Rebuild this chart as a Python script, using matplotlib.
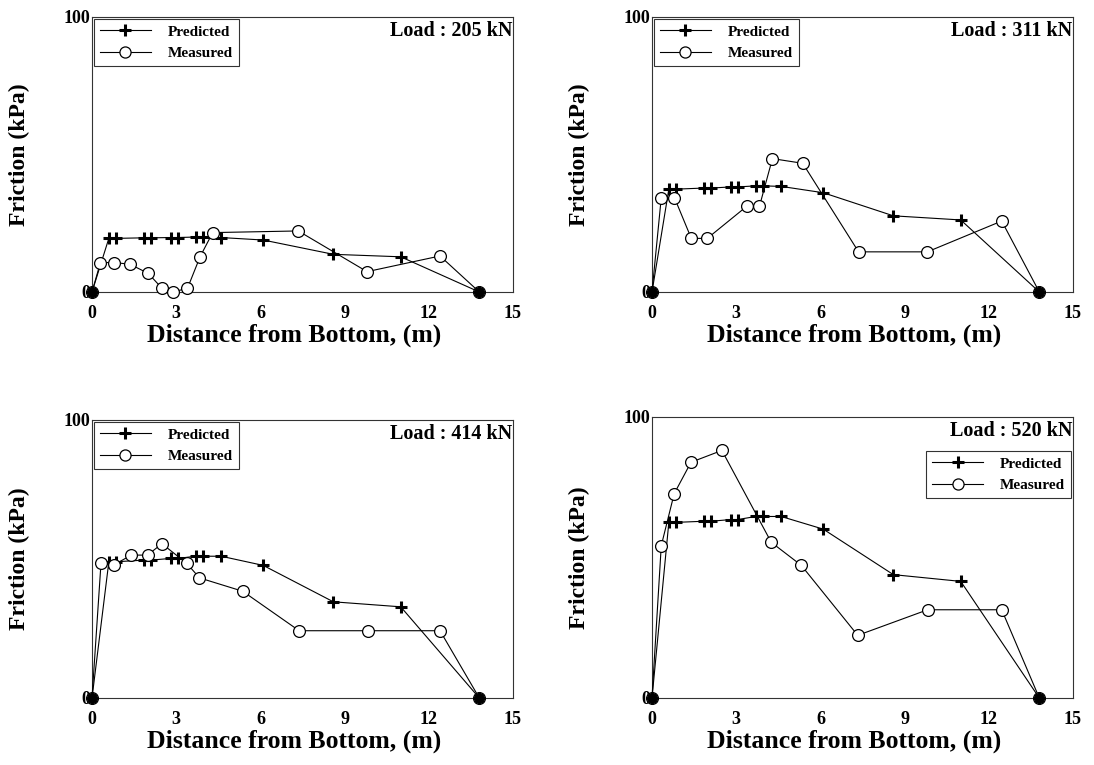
import matplotlib
matplotlib.use("Agg")
import matplotlib.pyplot as plt
from matplotlib.lines import Line2D

plt.rcParams['font.family'] = ['Liberation Serif', 'DejaVu Serif']
plt.rcParams['font.weight'] = 'bold'

# Data ---------------------------------------------------------------
loads = ["205", "311", "414", "520"]

pred_x = [0, 0.6, 0.85, 1.85, 2.1, 2.8, 3.05, 3.7, 3.95, 4.6, 6.1, 8.6, 11.0, 13.8]

pred_y_205 = [0, 19.5, 19.5, 19.7, 19.7, 19.8, 19.8, 20.0, 20.0, 19.8, 18.9, 13.7, 12.8, 0]
pred_y_311 = [0, 37.4, 37.4, 37.8, 37.8, 38.2, 38.2, 38.6, 38.6, 38.4, 36.1, 27.7, 26.2, 0]
pred_y_414 = [0, 49.0, 49.0, 49.6, 49.6, 50.2, 50.2, 51.0, 51.0, 51.0, 47.7, 34.6, 32.8, 0]
pred_y_520 = [0, 62.5, 62.5, 62.9, 62.9, 63.5, 63.5, 64.6, 64.6, 64.6, 60.1, 43.9, 41.5, 0]

meas_x_205 = [0, 0.3, 0.8, 1.35, 2.0, 2.5, 2.9, 3.4, 3.85, 4.3, 7.35, 9.8, 12.4, 13.8]
meas_y_205 = [0, 10.7, 10.7, 10.1, 6.8, 1.3, 0.1, 1.3, 12.8, 21.6, 22.2, 7.4, 13.1, 0]

meas_x_311 = [0, 0.33, 0.8, 1.4, 1.97, 3.38, 3.83, 4.29, 5.37, 7.36, 9.81, 12.46, 13.8]
meas_y_311 = [0, 34.3, 34.3, 19.5, 19.5, 31.2, 31.2, 48.5, 46.8, 14.6, 14.6, 25.8, 0]

meas_x_414 = [0, 0.32, 0.8, 1.4, 1.98, 2.49, 3.38, 3.83, 5.37, 7.38, 9.83, 12.4, 13.8]
meas_y_414 = [0, 48.4, 48.0, 51.4, 51.4, 55.5, 48.4, 43.2, 38.4, 24.2, 24.2, 24.2, 0]

meas_x_520 = [0, 0.33, 0.79, 1.39, 2.49, 4.25, 5.32, 7.33, 9.82, 12.46, 13.8]
meas_y_520 = [0, 54.2, 72.7, 83.9, 88.1, 55.4, 47.2, 22.3, 31.4, 31.4, 0]

x_ticks = [0, 3, 6, 9, 12, 15]
y_ticks = [0, 100]

panels = [
    (loads[0], pred_y_205, meas_x_205, meas_y_205),
    (loads[1], pred_y_311, meas_x_311, meas_y_311),
    (loads[2], pred_y_414, meas_x_414, meas_y_414),
    (loads[3], pred_y_520, meas_x_520, meas_y_520),
]

# Layout (pixel based) -----------------------------------------------
W, H = 1094, 765
fig = plt.figure(figsize=(W / 100, H / 100), dpi=100)

boxes = [
    (92, 17, 513, 292),
    (652, 17, 1073, 292),
    (92, 420, 513, 698),
    (652, 417, 1073, 698),
]

for i, ((l, t, r, b), (load, py, mx, my)) in enumerate(zip(boxes, panels)):
    ax = fig.add_axes([l / W, 1 - b / H, (r - l) / W, (b - t) / H])
    ax.plot(pred_x, py, color='black', lw=0.8, marker='+', ms=9, mew=2.2,
            clip_on=False, zorder=3)
    ax.plot(mx, my, color='black', lw=0.8, marker='o', ms=8.5, mfc='white',
            mec='black', mew=0.9, clip_on=False, zorder=4)
    ax.plot([pred_x[0], pred_x[-1]], [py[0], py[-1]], ls='none', marker='o',
            ms=7, color='black', clip_on=False, zorder=5)
    ax.set_xlim(0, 15)
    ax.set_ylim(0, 100)
    ax.set_xticks(x_ticks)
    ax.set_yticks(y_ticks)
    ax.tick_params(axis='x', length=0, labelsize=13, pad=9)
    ax.tick_params(axis='y', length=0, labelsize=13, pad=1)
    for lab in ax.get_xticklabels() + ax.get_yticklabels():
        lab.set_fontweight('bold')
    for s in ax.spines.values():
        s.set_linewidth(0.8)
        s.set_color('#333333')
    ax.set_xlabel('Distance from Bottom, (m)', fontsize=18.5, fontweight='bold')
    ax.xaxis.set_label_coords(0.48, -32.0 / (b - t))
    ax.set_ylabel('Friction (kPa)', fontsize=17, fontweight='bold', labelpad=24)
    ax.text(0.998, 0.985, 'Load : %s kN' % load, transform=ax.transAxes,
            ha='right', va='top', fontsize=14.5, fontweight='bold')

    handles = [
        Line2D([], [], color='black', lw=0.8, marker='+', ms=9, mew=2.2),
        Line2D([], [], color='black', lw=0.8, marker='o', ms=8, mfc='white', mew=0.9),
    ]
    if i < 3:
        leg = ax.legend(handles, ['Predicted', 'Measured'], loc='upper left',
                        bbox_to_anchor=(0.005, 0.993), fontsize=11, frameon=True,
                        fancybox=False, borderpad=0.4, handlelength=3.3,
                        labelspacing=0.5, handletextpad=1.1, borderaxespad=0)
    else:
        leg = ax.legend(handles, ['Predicted', 'Measured'], loc='upper right',
                        bbox_to_anchor=(0.995, 0.88), fontsize=11, frameon=True,
                        fancybox=False, borderpad=0.4, handlelength=3.3,
                        labelspacing=0.5, handletextpad=1.1, borderaxespad=0)
    leg.get_frame().set_edgecolor('black')
    leg.get_frame().set_linewidth(0.8)
    for txt in leg.get_texts():
        txt.set_fontweight('bold')

fig.savefig('out.png', dpi=100)
